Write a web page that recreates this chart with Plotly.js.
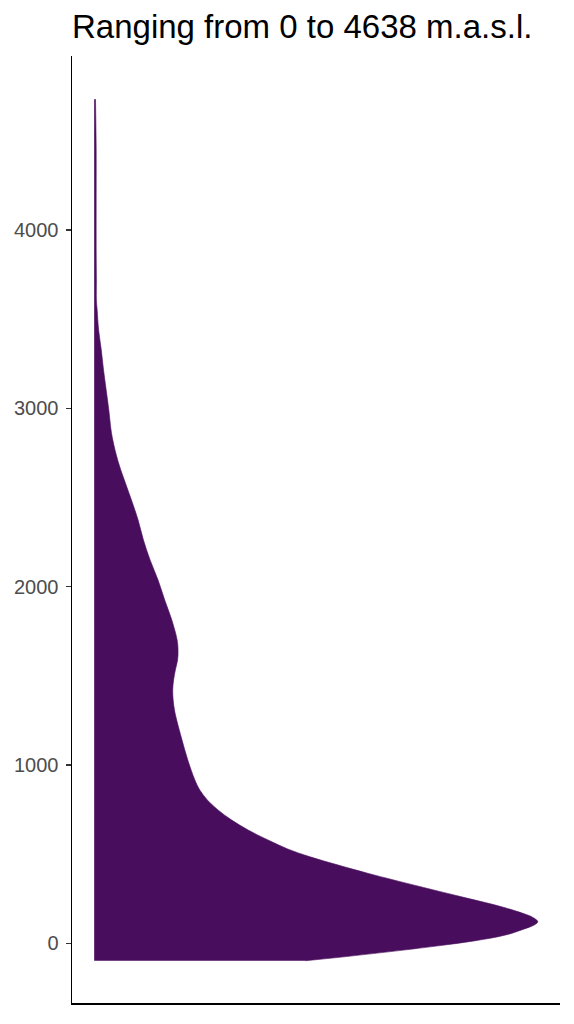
<!DOCTYPE html>
<html>
<head>
<meta charset="utf-8">
<script src="https://cdn.plot.ly/plotly-3.0.1.min.js"></script>
<style>
  html, body { margin: 0; padding: 0; background: #ffffff; }
  #chart { width: 574px; height: 1024px; }
</style>
</head>
<body>
<div id="chart"></div>
<script>
// Elevation (m.a.s.l.) along the outline of the half-violin, top to bottom
var elevation = [4734, 4449, 4168, 3888, 3720, 3608, 3552, 3440, 3328, 3216,
  3104, 2991, 2879, 2822, 2766, 2710, 2654, 2598, 2542, 2486,
  2374, 2262, 2150, 2037, 1925, 1813, 1701, 1645, 1589, 1533,
  1476, 1420, 1364, 1308, 1252, 1140, 1028, 916, 860, 804,
  748, 691, 635, 579, 529, 486, 440, 393, 355, 299,
  252, 205, 168, 146, 121, 103, 79, 46, 13, -13,
  -37, -79, -98];
// Relative density (scaled so the maximum is 1)
var density = [0.003, 0.0045, 0.0045, 0.0045, 0.005, 0.005, 0.0067, 0.010, 0.016, 0.021,
  0.027, 0.033, 0.038, 0.042, 0.047, 0.053, 0.060, 0.068, 0.076, 0.084,
  0.099, 0.111, 0.126, 0.144, 0.159, 0.175, 0.187, 0.189, 0.188, 0.183,
  0.179, 0.177, 0.178, 0.181, 0.186, 0.198, 0.211, 0.227, 0.238, 0.255,
  0.279, 0.310, 0.347, 0.392, 0.436, 0.485, 0.548, 0.616, 0.675, 0.765,
  0.842, 0.918, 0.966, 0.988, 1.000, 0.992, 0.968, 0.927, 0.856, 0.780,
  0.702, 0.552, 0.476];
var yTickVals = [0, 1000, 2000, 3000, 4000];
var yTickText = ["0", "1000", "2000", "3000", "4000"];
var titleText = "Ranging from 0 to 4638 m.a.s.l.";

var fillColor = "rgb(72,13,92)";

var trace = {
  type: "scatter",
  mode: "lines",
  x: density,
  y: elevation,
  fill: "tozerox",
  fillcolor: fillColor,
  line: { color: fillColor, width: 0.6, shape: "spline", smoothing: 1 },
  hoverinfo: "skip",
  showlegend: false
};

var layout = {
  width: 574,
  height: 1024,
  margin: { l: 72, r: 14, t: 56, b: 21, pad: 0 },
  paper_bgcolor: "#ffffff",
  plot_bgcolor: "#ffffff",
  font: { family: "Liberation Sans, Arial, sans-serif" },
  title: {
    text: titleText,
    font: { family: "Liberation Sans, Arial, sans-serif", size: 33, color: "#000000" },
    xref: "paper", x: 0, xanchor: "left",
    yref: "container", y: 1 - 26 / 1024, yanchor: "middle"
  },
  xaxis: {
    range: [-0.05, 1.05],
    showgrid: false, zeroline: false,
    showline: true, linecolor: "#000000", linewidth: 1.5,
    ticks: "", showticklabels: false,
    fixedrange: true
  },
  yaxis: {
    range: [-335, 4976],
    showgrid: false, zeroline: false,
    showline: true, linecolor: "#000000", linewidth: 1.5,
    ticks: "outside", ticklen: 5, tickwidth: 1.5, tickcolor: "#333333",
    tickvals: yTickVals, ticktext: yTickText,
    tickfont: { family: "Liberation Sans, Arial, sans-serif", size: 20, color: "#4D4D4D" },
    ticklabelstandoff: 3,
    fixedrange: true
  }
};

Plotly.newPlot("chart", [trace], layout, { displayModeBar: false, staticPlot: true });
</script>
</body>
</html>
